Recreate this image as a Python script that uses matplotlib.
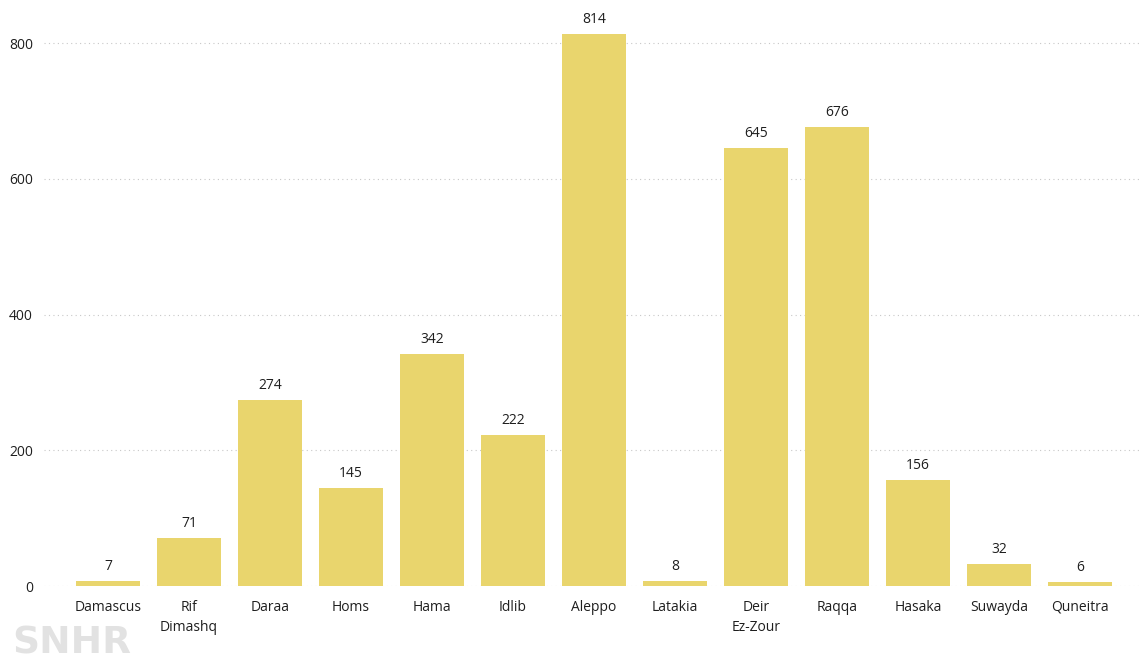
import matplotlib.pyplot as plt

plt.rcParams['font.family'] = ['Open Sans', 'DejaVu Sans']

# Governorates and counts
governorates = ["Damascus", "Rif\nDimashq", "Daraa", "Homs", "Hama", "Idlib", "Aleppo",
                "Latakia", "Deir\nEz-Zour", "Raqqa", "Hasaka", "Suwayda", "Quneitra"]
counts = [7, 71, 274, 145, 342, 222, 814, 8, 645, 676, 156, 32, 6]
yticks = [0, 200, 400, 600, 800]

bar_color = "#E9D56D"
text_color = "#1f1f1f"

fig = plt.figure(figsize=(11.41, 6.64), dpi=100)
ax = fig.add_axes([44 / 1141, 78 / 664, 1097 / 1141, 581 / 664])

x = range(len(governorates))
bars = ax.bar(x, counts, width=0.79, color=bar_color, zorder=2)

for xi, v in zip(x, counts):
    ax.annotate(str(v), (xi, v), xytext=(0, 5), textcoords="offset points",
                ha="center", va="bottom", fontsize=10, color=text_color)

ax.set_xlim(-0.79, 12.75)
ax.set_ylim(0, 856)
ax.set_yticks(yticks)
ax.set_xticks(list(x))
ax.set_xticklabels(governorates, fontsize=10, color=text_color, linespacing=1.5)
ax.tick_params(axis="y", labelsize=10, labelcolor=text_color, length=0, pad=8)
ax.tick_params(axis="x", length=0, pad=10)

ax.grid(axis="y", linestyle=(0, (1, 3)), color="#c8c8c8", linewidth=0.8, zorder=0)
for s in ax.spines.values():
    s.set_visible(False)

# watermark
fig.text(12 / 1141, 3 / 664, "SNHR", fontsize=27, fontweight="heavy", color="#e2e2e2",
         family="DejaVu Sans", ha="left", va="bottom")

fig.savefig("out.png", dpi=100)
